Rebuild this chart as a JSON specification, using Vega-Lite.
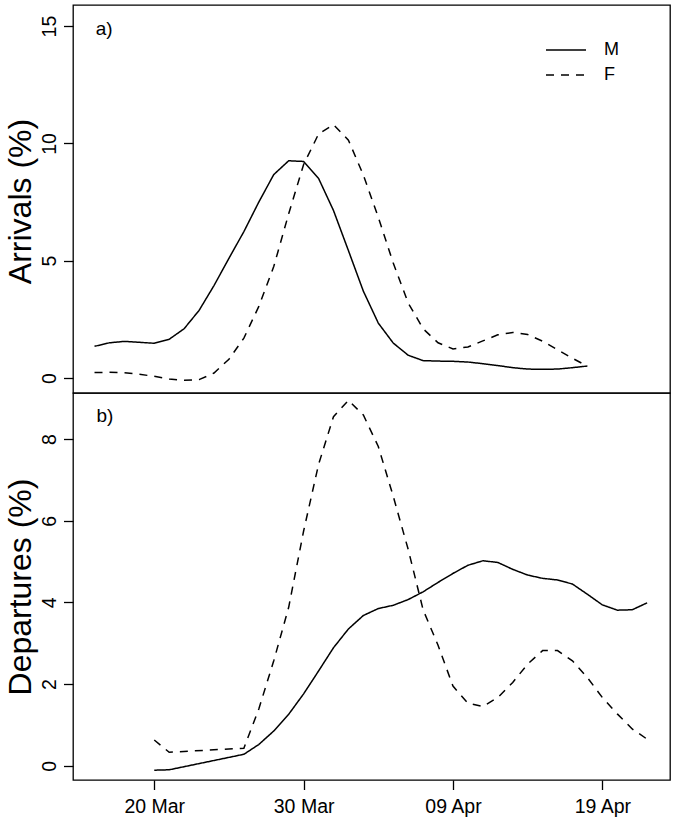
{
  "$schema": "https://vega.github.io/schema/vega-lite/v6.json",
  "autosize": {"type": "pad"},
  "padding": {"left": 3, "top": 4, "right": 0, "bottom": 0},
  "background": "white",
  "bounds": "flush",
  "spacing": 0,
  "config": {
    "font": "Liberation Sans",
    "view": {"stroke": "black", "strokeWidth": 1.3},
    "axis": {
      "domain": false, "grid": false,
      "tickColor": "black", "tickWidth": 1.3, "tickSize": 9.5,
      "labelColor": "black", "labelFont": "Liberation Sans", "labelFontSize": 19.5,
      "titleFont": "Liberation Sans", "titleFontSize": 32, "titleFontWeight": "normal", "titleColor": "black"
    }
  },
  "datasets": {
    "series": [
      {"panel": "Arrivals", "sex": "M", "date": "2013-03-16", "pct": 1.35},
      {"panel": "Arrivals", "sex": "M", "date": "2013-03-17", "pct": 1.50},
      {"panel": "Arrivals", "sex": "M", "date": "2013-03-18", "pct": 1.56},
      {"panel": "Arrivals", "sex": "M", "date": "2013-03-19", "pct": 1.52},
      {"panel": "Arrivals", "sex": "M", "date": "2013-03-20", "pct": 1.48},
      {"panel": "Arrivals", "sex": "M", "date": "2013-03-21", "pct": 1.65},
      {"panel": "Arrivals", "sex": "M", "date": "2013-03-22", "pct": 2.10},
      {"panel": "Arrivals", "sex": "M", "date": "2013-03-23", "pct": 2.88},
      {"panel": "Arrivals", "sex": "M", "date": "2013-03-24", "pct": 3.94},
      {"panel": "Arrivals", "sex": "M", "date": "2013-03-25", "pct": 5.10},
      {"panel": "Arrivals", "sex": "M", "date": "2013-03-26", "pct": 6.24},
      {"panel": "Arrivals", "sex": "M", "date": "2013-03-27", "pct": 7.50},
      {"panel": "Arrivals", "sex": "M", "date": "2013-03-28", "pct": 8.67},
      {"panel": "Arrivals", "sex": "M", "date": "2013-03-29", "pct": 9.26},
      {"panel": "Arrivals", "sex": "M", "date": "2013-03-30", "pct": 9.23},
      {"panel": "Arrivals", "sex": "M", "date": "2013-03-31", "pct": 8.51},
      {"panel": "Arrivals", "sex": "M", "date": "2013-04-01", "pct": 7.14},
      {"panel": "Arrivals", "sex": "M", "date": "2013-04-02", "pct": 5.43},
      {"panel": "Arrivals", "sex": "M", "date": "2013-04-03", "pct": 3.70},
      {"panel": "Arrivals", "sex": "M", "date": "2013-04-04", "pct": 2.34},
      {"panel": "Arrivals", "sex": "M", "date": "2013-04-05", "pct": 1.49},
      {"panel": "Arrivals", "sex": "M", "date": "2013-04-06", "pct": 0.97},
      {"panel": "Arrivals", "sex": "M", "date": "2013-04-07", "pct": 0.74},
      {"panel": "Arrivals", "sex": "M", "date": "2013-04-08", "pct": 0.72},
      {"panel": "Arrivals", "sex": "M", "date": "2013-04-09", "pct": 0.71},
      {"panel": "Arrivals", "sex": "M", "date": "2013-04-10", "pct": 0.68},
      {"panel": "Arrivals", "sex": "M", "date": "2013-04-11", "pct": 0.61},
      {"panel": "Arrivals", "sex": "M", "date": "2013-04-12", "pct": 0.53},
      {"panel": "Arrivals", "sex": "M", "date": "2013-04-13", "pct": 0.44},
      {"panel": "Arrivals", "sex": "M", "date": "2013-04-14", "pct": 0.38},
      {"panel": "Arrivals", "sex": "M", "date": "2013-04-15", "pct": 0.37},
      {"panel": "Arrivals", "sex": "M", "date": "2013-04-16", "pct": 0.38},
      {"panel": "Arrivals", "sex": "M", "date": "2013-04-17", "pct": 0.44},
      {"panel": "Arrivals", "sex": "M", "date": "2013-04-18", "pct": 0.51},
      {"panel": "Arrivals", "sex": "F", "date": "2013-03-16", "pct": 0.23},
      {"panel": "Arrivals", "sex": "F", "date": "2013-03-17", "pct": 0.24},
      {"panel": "Arrivals", "sex": "F", "date": "2013-03-18", "pct": 0.22},
      {"panel": "Arrivals", "sex": "F", "date": "2013-03-19", "pct": 0.16},
      {"panel": "Arrivals", "sex": "F", "date": "2013-03-20", "pct": 0.07},
      {"panel": "Arrivals", "sex": "F", "date": "2013-03-21", "pct": -0.04},
      {"panel": "Arrivals", "sex": "F", "date": "2013-03-22", "pct": -0.10},
      {"panel": "Arrivals", "sex": "F", "date": "2013-03-23", "pct": -0.07},
      {"panel": "Arrivals", "sex": "F", "date": "2013-03-24", "pct": 0.21},
      {"panel": "Arrivals", "sex": "F", "date": "2013-03-25", "pct": 0.80},
      {"panel": "Arrivals", "sex": "F", "date": "2013-03-26", "pct": 1.70},
      {"panel": "Arrivals", "sex": "F", "date": "2013-03-27", "pct": 3.05},
      {"panel": "Arrivals", "sex": "F", "date": "2013-03-28", "pct": 4.75},
      {"panel": "Arrivals", "sex": "F", "date": "2013-03-29", "pct": 7.00},
      {"panel": "Arrivals", "sex": "F", "date": "2013-03-30", "pct": 9.10},
      {"panel": "Arrivals", "sex": "F", "date": "2013-03-31", "pct": 10.40},
      {"panel": "Arrivals", "sex": "F", "date": "2013-04-01", "pct": 10.80},
      {"panel": "Arrivals", "sex": "F", "date": "2013-04-02", "pct": 10.14},
      {"panel": "Arrivals", "sex": "F", "date": "2013-04-03", "pct": 8.65},
      {"panel": "Arrivals", "sex": "F", "date": "2013-04-04", "pct": 6.85},
      {"panel": "Arrivals", "sex": "F", "date": "2013-04-05", "pct": 4.90},
      {"panel": "Arrivals", "sex": "F", "date": "2013-04-06", "pct": 3.20},
      {"panel": "Arrivals", "sex": "F", "date": "2013-04-07", "pct": 2.10},
      {"panel": "Arrivals", "sex": "F", "date": "2013-04-08", "pct": 1.50},
      {"panel": "Arrivals", "sex": "F", "date": "2013-04-09", "pct": 1.24},
      {"panel": "Arrivals", "sex": "F", "date": "2013-04-10", "pct": 1.32},
      {"panel": "Arrivals", "sex": "F", "date": "2013-04-11", "pct": 1.58},
      {"panel": "Arrivals", "sex": "F", "date": "2013-04-12", "pct": 1.84},
      {"panel": "Arrivals", "sex": "F", "date": "2013-04-13", "pct": 1.94},
      {"panel": "Arrivals", "sex": "F", "date": "2013-04-14", "pct": 1.85},
      {"panel": "Arrivals", "sex": "F", "date": "2013-04-15", "pct": 1.57},
      {"panel": "Arrivals", "sex": "F", "date": "2013-04-16", "pct": 1.20},
      {"panel": "Arrivals", "sex": "F", "date": "2013-04-17", "pct": 0.84},
      {"panel": "Arrivals", "sex": "F", "date": "2013-04-18", "pct": 0.50},
      {"panel": "Departures", "sex": "M", "date": "2013-03-20", "pct": -0.11},
      {"panel": "Departures", "sex": "M", "date": "2013-03-21", "pct": -0.10},
      {"panel": "Departures", "sex": "M", "date": "2013-03-26", "pct": 0.28},
      {"panel": "Departures", "sex": "M", "date": "2013-03-27", "pct": 0.52},
      {"panel": "Departures", "sex": "M", "date": "2013-03-28", "pct": 0.85},
      {"panel": "Departures", "sex": "M", "date": "2013-03-29", "pct": 1.26},
      {"panel": "Departures", "sex": "M", "date": "2013-03-30", "pct": 1.76},
      {"panel": "Departures", "sex": "M", "date": "2013-03-31", "pct": 2.32},
      {"panel": "Departures", "sex": "M", "date": "2013-04-01", "pct": 2.89},
      {"panel": "Departures", "sex": "M", "date": "2013-04-02", "pct": 3.35},
      {"panel": "Departures", "sex": "M", "date": "2013-04-03", "pct": 3.68},
      {"panel": "Departures", "sex": "M", "date": "2013-04-04", "pct": 3.85},
      {"panel": "Departures", "sex": "M", "date": "2013-04-05", "pct": 3.93},
      {"panel": "Departures", "sex": "M", "date": "2013-04-06", "pct": 4.07},
      {"panel": "Departures", "sex": "M", "date": "2013-04-07", "pct": 4.26},
      {"panel": "Departures", "sex": "M", "date": "2013-04-08", "pct": 4.49},
      {"panel": "Departures", "sex": "M", "date": "2013-04-09", "pct": 4.71},
      {"panel": "Departures", "sex": "M", "date": "2013-04-10", "pct": 4.91},
      {"panel": "Departures", "sex": "M", "date": "2013-04-11", "pct": 5.02},
      {"panel": "Departures", "sex": "M", "date": "2013-04-12", "pct": 4.98},
      {"panel": "Departures", "sex": "M", "date": "2013-04-13", "pct": 4.81},
      {"panel": "Departures", "sex": "M", "date": "2013-04-14", "pct": 4.67},
      {"panel": "Departures", "sex": "M", "date": "2013-04-15", "pct": 4.59},
      {"panel": "Departures", "sex": "M", "date": "2013-04-16", "pct": 4.55},
      {"panel": "Departures", "sex": "M", "date": "2013-04-17", "pct": 4.45},
      {"panel": "Departures", "sex": "M", "date": "2013-04-18", "pct": 4.20},
      {"panel": "Departures", "sex": "M", "date": "2013-04-19", "pct": 3.94},
      {"panel": "Departures", "sex": "M", "date": "2013-04-20", "pct": 3.81},
      {"panel": "Departures", "sex": "M", "date": "2013-04-21", "pct": 3.82},
      {"panel": "Departures", "sex": "M", "date": "2013-04-22", "pct": 3.99},
      {"panel": "Departures", "sex": "F", "date": "2013-03-20", "pct": 0.63},
      {"panel": "Departures", "sex": "F", "date": "2013-03-21", "pct": 0.33},
      {"panel": "Departures", "sex": "F", "date": "2013-03-26", "pct": 0.43},
      {"panel": "Departures", "sex": "F", "date": "2013-03-27", "pct": 1.39},
      {"panel": "Departures", "sex": "F", "date": "2013-03-28", "pct": 2.57},
      {"panel": "Departures", "sex": "F", "date": "2013-03-29", "pct": 3.88},
      {"panel": "Departures", "sex": "F", "date": "2013-03-30", "pct": 5.75},
      {"panel": "Departures", "sex": "F", "date": "2013-03-31", "pct": 7.38},
      {"panel": "Departures", "sex": "F", "date": "2013-04-01", "pct": 8.55},
      {"panel": "Departures", "sex": "F", "date": "2013-04-02", "pct": 8.95},
      {"panel": "Departures", "sex": "F", "date": "2013-04-03", "pct": 8.59},
      {"panel": "Departures", "sex": "F", "date": "2013-04-04", "pct": 7.82},
      {"panel": "Departures", "sex": "F", "date": "2013-04-05", "pct": 6.60},
      {"panel": "Departures", "sex": "F", "date": "2013-04-06", "pct": 5.30},
      {"panel": "Departures", "sex": "F", "date": "2013-04-07", "pct": 3.82},
      {"panel": "Departures", "sex": "F", "date": "2013-04-08", "pct": 2.95},
      {"panel": "Departures", "sex": "F", "date": "2013-04-09", "pct": 1.95},
      {"panel": "Departures", "sex": "F", "date": "2013-04-10", "pct": 1.53},
      {"panel": "Departures", "sex": "F", "date": "2013-04-11", "pct": 1.45},
      {"panel": "Departures", "sex": "F", "date": "2013-04-12", "pct": 1.67},
      {"panel": "Departures", "sex": "F", "date": "2013-04-13", "pct": 2.04},
      {"panel": "Departures", "sex": "F", "date": "2013-04-14", "pct": 2.49},
      {"panel": "Departures", "sex": "F", "date": "2013-04-15", "pct": 2.82},
      {"panel": "Departures", "sex": "F", "date": "2013-04-16", "pct": 2.82},
      {"panel": "Departures", "sex": "F", "date": "2013-04-17", "pct": 2.57},
      {"panel": "Departures", "sex": "F", "date": "2013-04-18", "pct": 2.16},
      {"panel": "Departures", "sex": "F", "date": "2013-04-19", "pct": 1.67},
      {"panel": "Departures", "sex": "F", "date": "2013-04-20", "pct": 1.27},
      {"panel": "Departures", "sex": "F", "date": "2013-04-21", "pct": 0.90},
      {"panel": "Departures", "sex": "F", "date": "2013-04-22", "pct": 0.65}
    ],
    "labelA": [{"label": "a)"}],
    "labelB": [{"label": "b)"}]
  },
  "vconcat": [
    {
      "width": 597,
      "height": 388,
      "layer": [
        {
          "data": {"name": "series"},
          "transform": [{"filter": "datum.panel === 'Arrivals'"}],
          "mark": {"type": "line", "color": "black", "strokeWidth": 1.5},
          "encoding": {
            "x": {
              "field": "date", "type": "temporal",
              "scale": {"type": "utc", "domain": [
                {"year": 2013, "month": 3, "date": 14, "hours": 13, "minutes": 26, "utc": true},
                {"year": 2013, "month": 4, "date": 23, "hours": 12, "minutes": 43, "utc": true}
              ]},
              "axis": null
            },
            "y": {
              "field": "pct", "type": "quantitative",
              "scale": {"domain": [-0.64, 15.9], "nice": false, "zero": false},
              "axis": {
                "title": "Arrivals (%)", "values": [0, 5, 10, 15],
                "labelAngle": 270, "labelAlign": "center", "labelBaseline": "alphabetic", "labelPadding": 8,
                "titleAngle": 270, "titleAlign": "center", "titleBaseline": "top", "titleX": -68, "titleY": 196
              }
            },
            "strokeDash": {
              "field": "sex", "type": "nominal",
              "scale": {"domain": ["M", "F"], "range": [[1, 0], [8, 7]]},
              "legend": {
                "title": null, "orient": "none", "legendX": 482, "legendY": 34,
                "symbolType": "M-2,0H2", "symbolSize": 400, "symbolStrokeWidth": 1.5, "symbolStrokeColor": "black",
                "labelFontSize": 18, "labelFont": "Liberation Sans", "labelColor": "black", "labelOffset": 27,
                "labelBaseline": "middle", "rowPadding": 5, "padding": 0
              }
            }
          }
        },
        {
          "data": {"name": "labelA"},
          "mark": {"type": "text", "align": "left", "baseline": "middle", "fontSize": 19, "font": "Liberation Sans", "color": "black"},
          "encoding": {
            "x": {"datum": {"year": 2013, "month": 3, "date": 16, "hours": 2, "utc": true}, "type": "temporal"},
            "y": {"datum": 14.87, "type": "quantitative"},
            "text": {"field": "label"}
          }
        }
      ]
    },
    {
      "width": 597,
      "height": 387,
      "layer": [
        {
          "data": {"name": "series"},
          "transform": [{"filter": "datum.panel === 'Departures'"}],
          "mark": {"type": "line", "color": "black", "strokeWidth": 1.5},
          "encoding": {
            "x": {
              "field": "date", "type": "temporal",
              "scale": {"type": "utc", "domain": [
                {"year": 2013, "month": 3, "date": 14, "hours": 13, "minutes": 26, "utc": true},
                {"year": 2013, "month": 4, "date": 23, "hours": 12, "minutes": 43, "utc": true}
              ]},
              "axis": {
                "title": null, "labelExpr": "utcFormat(datum.value, '%d %b')", "labelAngle": 0, "labelPadding": 8, "labelFlush": false,
                "values": [
                  {"year": 2013, "month": 3, "date": 20, "utc": true},
                  {"year": 2013, "month": 3, "date": 30, "utc": true},
                  {"year": 2013, "month": 4, "date": 9, "utc": true},
                  {"year": 2013, "month": 4, "date": 19, "utc": true}
                ]
              }
            },
            "y": {
              "field": "pct", "type": "quantitative",
              "scale": {"domain": [-0.35, 9.13], "nice": false, "zero": false},
              "axis": {
                "title": "Departures (%)", "values": [0, 2, 4, 6, 8],
                "labelAngle": 270, "labelAlign": "center", "labelBaseline": "alphabetic", "labelPadding": 8,
                "titleAngle": 270, "titleAlign": "center", "titleBaseline": "top", "titleX": -68, "titleY": 193.5
              }
            },
            "strokeDash": {
              "field": "sex", "type": "nominal",
              "scale": {"domain": ["M", "F"], "range": [[1, 0], [8, 7]]},
              "legend": null
            }
          }
        },
        {
          "data": {"name": "labelB"},
          "mark": {"type": "text", "align": "left", "baseline": "middle", "fontSize": 19, "font": "Liberation Sans", "color": "black"},
          "encoding": {
            "x": {"datum": {"year": 2013, "month": 3, "date": 16, "hours": 3, "utc": true}, "type": "temporal"},
            "y": {"datum": 8.57, "type": "quantitative"},
            "text": {"field": "label"}
          }
        }
      ]
    }
  ]
}
